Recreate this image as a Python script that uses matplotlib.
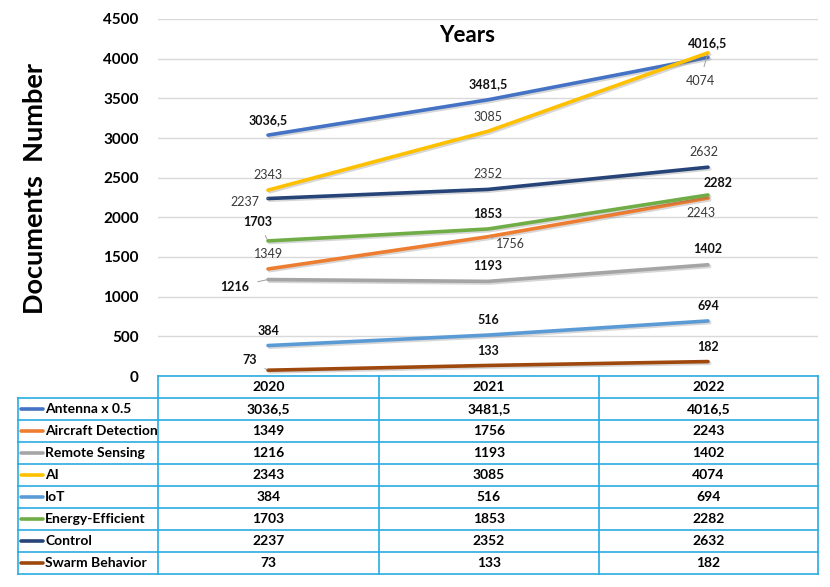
import matplotlib
matplotlib.use("Agg")
import matplotlib.pyplot as plt
import matplotlib.patheffects as pe
from matplotlib.lines import Line2D

plt.rcParams['font.family'] = ['Lato', 'DejaVu Sans']

years = ["2020", "2021", "2022"]
series_names = ["Antenna x 0.5", "Aircraft Detection", "Remote Sensing", "AI",
                "IoT", "Energy-Efficient", "Control", "Swarm Behavior"]
antenna = [3036.5, 3481.5, 4016.5]
aircraft = [1349, 1756, 2243]
remote = [1216, 1193, 1402]
ai = [2343, 3085, 4074]
iot = [384, 516, 694]
energy = [1703, 1853, 2282]
control = [2237, 2352, 2632]
swarm = [73, 133, 182]
series_values = [antenna, aircraft, remote, ai, iot, energy, control, swarm]
colors = ["#4472C4", "#ED7D31", "#A5A5A5", "#FFC000", "#5B9BD5", "#70AD47",
          "#264478", "#9E480E"]
y_ticks = [0, 500, 1000, 1500, 2000, 2500, 3000, 3500, 4000, 4500]

def fmt(v):
    if float(v).is_integer():
        return str(int(v))
    return str(v).replace(".", ",")

# label offsets in pixels (dx, dy), bold flag, leader flags
label_style = {
    "Antenna x 0.5": ([(0, 15), (0, 16), (0, 14)], True, [False, False, False]),
    "Aircraft Detection": ([(1, 15), (22, -7), (-7, -15)], False, [False, True, False]),
    "Remote Sensing": ([(-33, -7), (0, 15), (0, 16)], True, [True, False, False]),
    "AI": ([(0, 15), (0, 14), (-8, -28)], False, [False, False, True]),
    "IoT": ([(0, 15), (0, 15), (0, 15)], True, [False, False, False]),
    "Energy-Efficient": ([(-10, 19), (0, 15), (10, 12)], True, [True, False, False]),
    "Control": ([(-23, -3), (0, 15), (-4, 15)], False, [True, False, False]),
    "Swarm Behavior": ([(-18, 10), (0, 14), (0, 15)], True, [True, False, False]),
}

W, H = 830, 587
fig = plt.figure(figsize=(W / 100, H / 100), dpi=100)
ax_left, ax_right, ax_top, ax_bottom = 158, 818, 19, 376
ax = fig.add_axes([ax_left / W, 1 - ax_bottom / H, (ax_right - ax_left) / W,
                   (ax_bottom - ax_top) / H])

x = list(range(len(years)))
for name, vals, c in zip(series_names, series_values, colors):
    ax.plot(x, vals, color=c, lw=2.6, solid_capstyle='round', zorder=3,
            path_effects=[pe.SimpleLineShadow(offset=(1.2, -1.2), alpha=0.25, shadow_color='#606060'),
                          pe.Normal()])
    offs, bold, leaders = label_style[name]
    for xi, v, (dx, dy), ld in zip(x, vals, offs, leaders):
        ax.annotate(fmt(v), (xi, v), xytext=(dx, dy), textcoords='offset pixels',
                    ha='center', va='center', fontsize=9,
                    fontweight='bold' if bold else 'normal',
                    color='#111111' if bold else '#3A3A3A', zorder=5,
                    arrowprops=dict(arrowstyle='-', color='#A0A0A0', lw=0.7,
                                    shrinkA=4, shrinkB=1) if ld else None)

ax.set_xlim(-0.5, 2.5)
ax.set_ylim(0, 4500)
ax.set_yticks(y_ticks)
ax.set_yticklabels([str(t) for t in y_ticks], fontsize=11, fontweight='bold')
ax.tick_params(axis='y', length=0, pad=14)
ax.set_xticks([])
ax.grid(axis='y', color='#D9D9D9', lw=1)
ax.set_axisbelow(True)
for s in ax.spines.values():
    s.set_visible(False)

fig.text(467 / W, 1 - 35 / H, "Years", ha='center', va='center',
         fontsize=16, fontweight='bold')
fig.text(35 / W, 1 - 189 / H, "Documents  Number", ha='center', va='center',
         rotation=90, fontsize=19.5, fontweight='bold')

# data table
border = "#29ABE2"
tl, tc1, tc2, tc3, tr = 18, 158, 379, 599, 818
hdr_top, hdr_bot = 376, 398
row_h = 22
n = len(series_names)
tbot = hdr_bot + n * row_h

def hline(x0, x1, y):
    fig.add_artist(Line2D([x0 / W, x1 / W], [1 - y / H, 1 - y / H], color=border, lw=1.2))

def vline(xp, y0, y1):
    fig.add_artist(Line2D([xp / W, xp / W], [1 - y0 / H, 1 - y1 / H], color=border, lw=1.2))

hline(tc1, tr, hdr_top)
for i in range(n + 1):
    hline(tl, tr, hdr_bot + i * row_h)
vline(tl, hdr_bot, tbot)
for xp in (tc1, tc2, tc3, tr):
    vline(xp, hdr_top, tbot)

col_centers = [(tc1 + tc2) / 2, (tc2 + tc3) / 2, (tc3 + tr) / 2]
for cx, yr in zip(col_centers, years):
    fig.text(cx / W, 1 - (hdr_top + hdr_bot) / 2 / H, yr, ha='center', va='center',
             fontsize=10, fontweight='bold')
for i, (name, vals, c) in enumerate(zip(series_names, series_values, colors)):
    yc = hdr_bot + i * row_h + row_h / 2
    fig.add_artist(Line2D([21 / W, 43 / W], [1 - yc / H, 1 - yc / H], color=c, lw=2.6,
                          solid_capstyle='round'))
    fig.text(45 / W, 1 - yc / H, name, ha='left', va='center', fontsize=10,
             fontweight='bold')
    for cx, v in zip(col_centers, vals):
        fig.text(cx / W, 1 - yc / H, fmt(v), ha='center', va='center',
                 fontsize=10, fontweight='bold')

fig.savefig("out.png", dpi=100)
